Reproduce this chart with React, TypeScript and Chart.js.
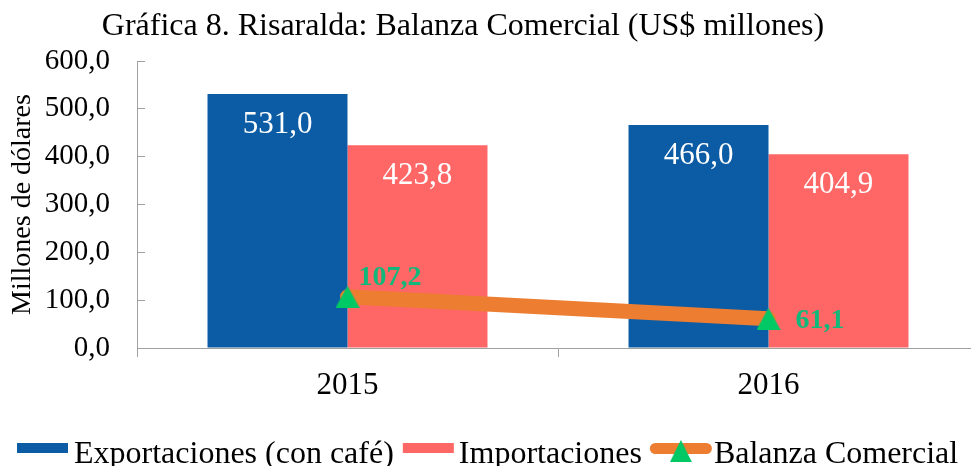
import React, { useEffect, useRef } from 'react';
import { Chart, registerables } from 'chart.js';

Chart.register(...registerables);

const TITLE = 'Gráfica 8. Risaralda: Balanza Comercial (US$ millones)';
const Y_TITLE = 'Millones de dólares';
const CATEGORIES = ['2015', '2016'];
const EXPORTS = [531.0, 466.0];
const IMPORTS = [423.8, 404.9];
const BALANCE = [107.2, 61.1];
const SERIES_NAMES = ['Exportaciones (con café)', 'Importaciones', 'Balanza Comercial'];
const Y_MIN = 0;
const Y_MAX = 600;
const Y_STEP = 100;

const COLORS = {
  exp: '#0B5CA5',
  imp: '#FF6666',
  bal: '#ED7D31',
  marker: '#00C864',
  balLabel: '#12B87A',
  axis: '#A0A0A0',
};
const SERIF = '"Liberation Serif", "Times New Roman", serif';
// canvas is a little wider than the viewport; the chart's right edge is cropped like the reference
const W = 980;
const H = 466;

const fmt = (v: number) => v.toFixed(1).replace('.', ',');

// label offsets for the balance line labels (layout only)
const LINE_LABEL_OFFSETS: [number, number][] = [
  [11, -19],
  [27, 2],
];

function makeTriangle(): HTMLCanvasElement {
  const c = document.createElement('canvas');
  c.width = 24;
  c.height = 22;
  const g = c.getContext('2d')!;
  g.fillStyle = COLORS.marker;
  g.beginPath();
  g.moveTo(12, 0);
  g.lineTo(24, 22);
  g.lineTo(0, 22);
  g.closePath();
  g.fill();
  return c;
}

export default function App() {
  const ref = useRef<HTMLCanvasElement | null>(null);

  useEffect(() => {
    if (!ref.current) return;
    const tri = makeTriangle();

    const decor = {
      id: 'decor',
      afterDatasetsDraw(chart: any) {
        const ctx = chart.ctx;
        ctx.save();
        ctx.font = `31px ${SERIF}`;
        ctx.fillStyle = '#ffffff';
        ctx.textAlign = 'center';
        ctx.textBaseline = 'middle';
        [0, 1].forEach((di) => {
          const meta = chart.getDatasetMeta(di);
          meta.data.forEach((el: any, i: number) => {
            const v = chart.data.datasets[di].data[i] as number;
            ctx.fillText(fmt(v), el.x, el.y + 31);
          });
        });
        ctx.font = `bold 28px ${SERIF}`;
        ctx.fillStyle = COLORS.balLabel;
        ctx.textAlign = 'left';
        const lm = chart.getDatasetMeta(2);
        lm.data.forEach((el: any, i: number) => {
          const [dx, dy] = LINE_LABEL_OFFSETS[i];
          ctx.fillText(fmt(BALANCE[i]), el.x + dx, el.y + dy);
        });
        ctx.restore();
      },
      afterDraw(chart: any) {
        const ctx = chart.ctx;
        ctx.save();
        // title
        ctx.font = `32px ${SERIF}`;
        ctx.fillStyle = '#000';
        ctx.textAlign = 'center';
        ctx.textBaseline = 'alphabetic';
        ctx.fillText(TITLE, 463, 35);

        // legend
        ctx.textAlign = 'left';
        const base = 463;
        let x = 17;
        ctx.fillStyle = COLORS.exp;
        ctx.fillRect(x, 443, 51, 10);
        x += 51 + 6;
        ctx.fillStyle = '#000';
        ctx.fillText(SERIES_NAMES[0], x, base);
        x += ctx.measureText(SERIES_NAMES[0]).width + 9;

        ctx.fillStyle = COLORS.imp;
        ctx.fillRect(x, 443, 51, 10);
        x += 51 + 5;
        ctx.fillStyle = '#000';
        ctx.fillText(SERIES_NAMES[1], x, base);
        x += ctx.measureText(SERIES_NAMES[1]).width + 8;

        ctx.strokeStyle = COLORS.bal;
        ctx.lineWidth = 11;
        ctx.lineCap = 'round';
        ctx.beginPath();
        ctx.moveTo(x + 5.5, 448.5);
        ctx.lineTo(x + 56.5, 448.5);
        ctx.stroke();
        ctx.drawImage(tri, x + 31 - 11, 440, 22, 22);
        x += 62 + 2;
        ctx.fillStyle = '#000';
        ctx.fillText(SERIES_NAMES[2], x, base);
        ctx.restore();
      },
    };

    const chart = new Chart(ref.current, {
      type: 'bar',
      data: {
        labels: CATEGORIES,
        datasets: [
          {
            type: 'bar',
            label: SERIES_NAMES[0],
            data: EXPORTS,
            backgroundColor: COLORS.exp,
            borderWidth: 0,
            categoryPercentage: 0.665,
            barPercentage: 1,
            order: 1,
          },
          {
            type: 'bar',
            label: SERIES_NAMES[1],
            data: IMPORTS,
            backgroundColor: COLORS.imp,
            borderWidth: 0,
            categoryPercentage: 0.665,
            barPercentage: 1,
            order: 1,
          },
          {
            type: 'line',
            label: SERIES_NAMES[2],
            data: BALANCE,
            borderColor: COLORS.bal,
            backgroundColor: COLORS.bal,
            borderWidth: 15,
            borderCapStyle: 'round',
            borderJoinStyle: 'round',
            pointStyle: tri,
            pointRadius: 1,
            pointBorderWidth: 0,
            pointHoverRadius: 1,
            fill: false,
            tension: 0,
            order: 0,
          } as any,
        ],
      },
      options: {
        responsive: false,
        animation: false,
        devicePixelRatio: 1,
        layout: { padding: { top: 61, right: 0, left: 0, bottom: 0 } },
        plugins: {
          legend: { display: false },
          title: { display: false },
          tooltip: { enabled: false },
        },
        scales: {
          x: {
            type: 'category',
            offset: true,
            grid: {
              offset: true,
              drawOnChartArea: false,
              tickLength: 9,
              color: COLORS.axis,
            },
            border: { color: COLORS.axis, width: 1 },
            ticks: {
              font: { size: 31, family: SERIF },
              color: '#000',
              padding: 10,
            },
            afterFit: (s: any) => {
              s.height = H - 348;
              s.paddingLeft = 0;
              s.paddingRight = 0;
            },
          },
          y: {
            min: Y_MIN,
            max: Y_MAX,
            ticks: {
              stepSize: Y_STEP,
              callback: (v: any) => fmt(Number(v)),
              font: { size: 29, family: SERIF },
              color: '#000',
              padding: 35,
            },
            grid: {
              drawOnChartArea: false,
              tickLength: -8,
              color: COLORS.axis,
            },
            border: { color: COLORS.axis, width: 1 },
            title: {
              display: true,
              text: Y_TITLE,
              font: { size: 28, family: SERIF },
              color: '#000',
              padding: { top: 6, bottom: 0 },
            },
            afterFit: (s: any) => {
              s.width = 137;
              s.paddingTop = 0;
              s.paddingBottom = 0;
            },
          },
        },
      } as any,
      plugins: [decor],
    });

    return () => chart.destroy();
  }, []);

  return (
    <div
      style={{
        position: 'fixed',
        left: 0,
        top: 0,
        width: 971,
        height: 466,
        overflow: 'hidden',
        background: '#fff',
      }}
    >
      <canvas ref={ref} width={W} height={H} style={{ display: 'block', width: W, height: H }} />
    </div>
  );
}
